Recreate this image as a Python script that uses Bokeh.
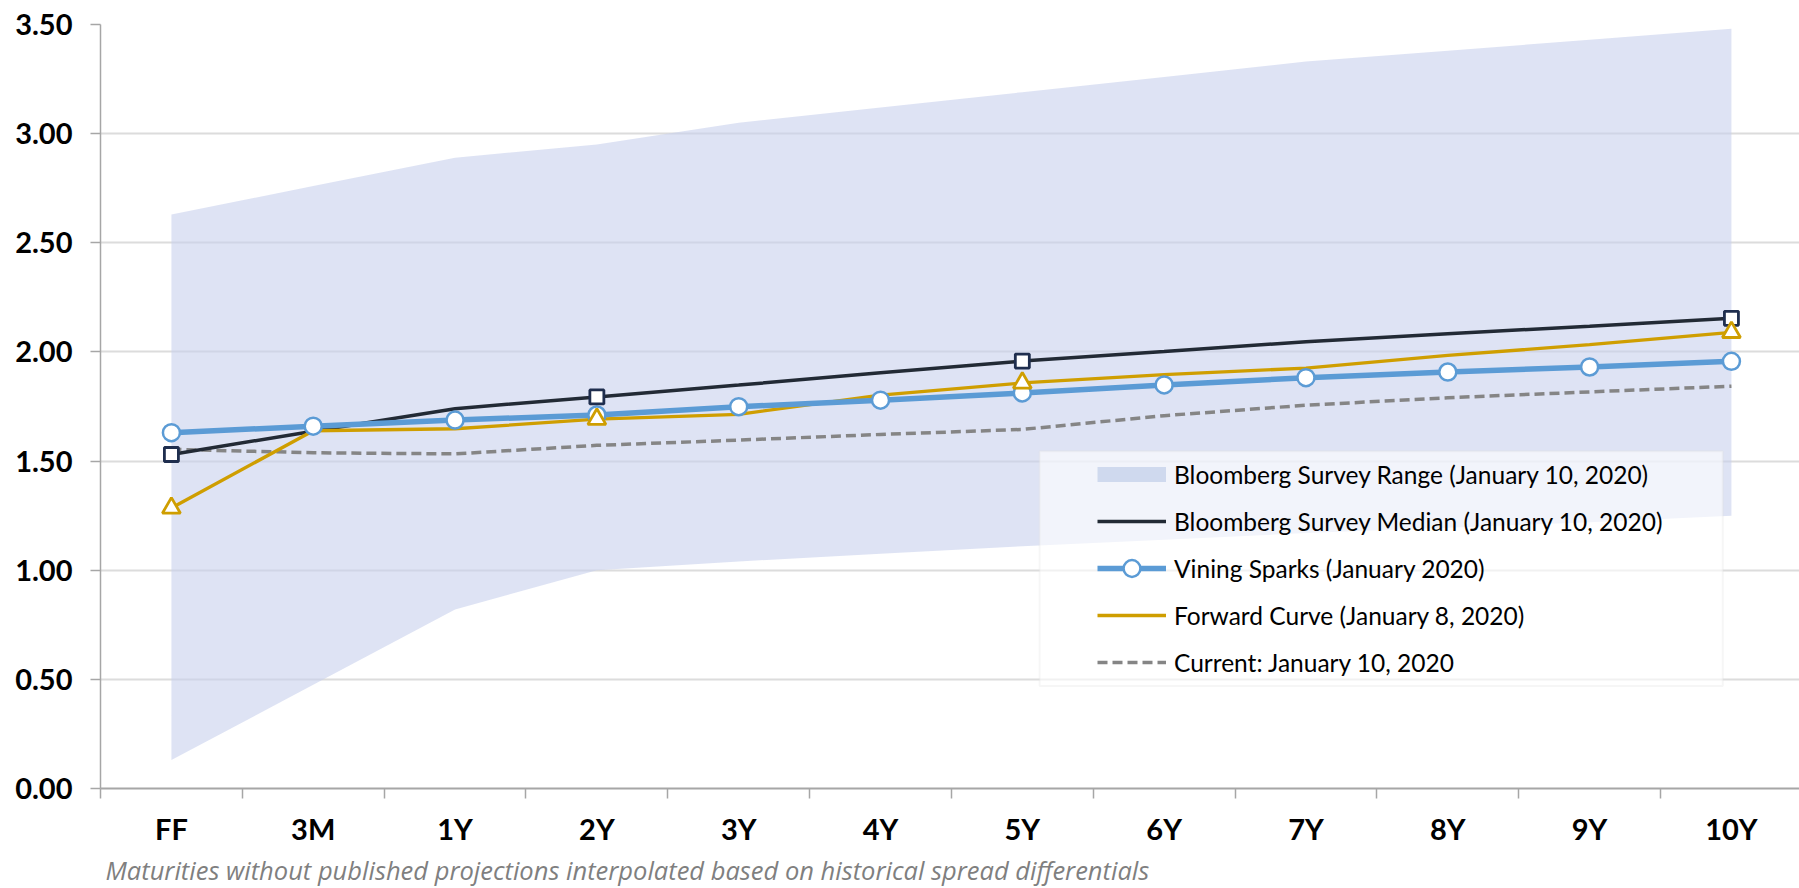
import numpy as np
from bokeh.plotting import figure
from bokeh.models import (Range1d, FixedTicker, NumeralTickFormatter, Legend, LegendItem,
                          BoxAnnotation, Title, ColumnDataSource)
from bokeh.embed import file_html
from bokeh.resources import INLINE

# ---------------- data ----------------
categories = ["FF", "3M", "1Y", "2Y", "3Y", "4Y", "5Y", "6Y", "7Y", "8Y", "9Y", "10Y"]
range_low = [0.13, 0.475, 0.82, 1.00, 1.04, 1.075, 1.11, 1.14, 1.17, 1.195, 1.22, 1.25]
range_high = [2.63, 2.76, 2.89, 2.95, 3.05, 3.12, 3.19, 3.26, 3.33, 3.38, 3.43, 3.48]
median = [1.53, 1.637, 1.74, 1.794, 1.848, 1.905, 1.958, 2.002, 2.047, 2.083, 2.118, 2.154]
vining = [1.63, 1.66, 1.688, 1.711, 1.749, 1.779, 1.812, 1.849, 1.882, 1.908, 1.931, 1.957]
forward = [1.285, 1.639, 1.648, 1.692, 1.714, 1.802, 1.858, 1.896, 1.926, 1.984, 2.033, 2.09]
current = [1.554, 1.538, 1.533, 1.572, 1.596, 1.622, 1.645, 1.708, 1.756, 1.79, 1.817, 1.843]
marker_cats = ["FF", "2Y", "5Y", "10Y"]
y_ticks = [0.0, 0.5, 1.0, 1.5, 2.0, 2.5, 3.0, 3.5]
labels = ["Bloomberg Survey Range (January 10, 2020)",
          "Bloomberg Survey Median (January 10, 2020)",
          "Vining Sparks (January 2020)",
          "Forward Curve (January 8, 2020)",
          "Current: January 10, 2020"]
footnote = "Maturities without published projections interpolated based on historical spread differentials"

FONT = "Lato"
C_BAND = "#C8D1EC"
C_BAND_KEY = "#CFD9EE"
C_MED = "#222A35"
C_MED_MK = "#1F2E4E"
C_BLUE = "#5B9BD5"
C_GOLD = "#CF9E00"
C_GRAY = "#858585"

n = len(categories)
xs = list(range(n))
src = ColumnDataSource(dict(x=xs, low=range_low, high=range_high, median=median,
                            vining=vining, forward=forward, current=current))
mk_idx = [categories.index(c) for c in marker_cats]
mk_src = ColumnDataSource(dict(x=[xs[i] for i in mk_idx],
                               median=[median[i] for i in mk_idx],
                               forward=[forward[i] for i in mk_idx]))

p = figure(width=1799, height=888, output_backend="svg", toolbar_location=None,
           x_range=Range1d(-0.5, 11.48), y_range=Range1d(0, 3.5),
           min_border_top=24, min_border_left=100, min_border_right=0, min_border_bottom=96)
p.outline_line_color = None
p.background_fill_color = "white"

# band
p.varea(x="x", y1="low", y2="high", source=src, fill_color=C_BAND, fill_alpha=0.6)
# legend key for the band (a non-drawable point, shown only in the legend)
key_src = ColumnDataSource(dict(x=np.array([np.nan]), y=np.array([np.nan])))
r_band_key = p.line("x", "y", source=key_src, line_color=C_BAND_KEY, line_width=15)
# lines
r_cur = p.line("x", "current", source=src, line_color=C_GRAY, line_width=3.5, line_dash="10 5")
r_med = p.line("x", "median", source=src, line_color=C_MED, line_width=3.5)
r_fwd = p.line("x", "forward", source=src, line_color=C_GOLD, line_width=3.3)
r_vin = p.line("x", "vining", source=src, line_color=C_BLUE, line_width=5.5)
r_vin_m = p.scatter("x", "vining", source=src, marker="circle", size=17, fill_color="white",
                    line_color=C_BLUE, line_width=2.5)
p.scatter("x", "median", source=mk_src, marker="square", size=14, fill_color="white",
          line_color=C_MED_MK, line_width=2.8)
p.scatter("x", "forward", source=mk_src, marker="triangle", size=18, fill_color="white",
          line_color=C_GOLD, line_width=2.8)

# axes
yax = p.yaxis[0]
yax.ticker = FixedTicker(ticks=y_ticks)
yax.formatter = NumeralTickFormatter(format="0.00")
yax.major_tick_out = 10
yax.major_tick_in = 0
yax.minor_tick_out = 0
yax.minor_tick_in = 0
yax.major_tick_line_color = "#a6a6a6"
yax.major_tick_line_width = 1.5
yax.axis_line_color = "#a6a6a6"
yax.axis_line_width = 1.5
yax.major_label_text_font = FONT
yax.major_label_text_font_style = "bold"
yax.major_label_text_font_size = "29px"
yax.major_label_text_color = "black"
yax.major_label_standoff = 18

xax = p.xaxis[0]
xax.ticker = FixedTicker(ticks=xs, minor_ticks=[i - 0.5 for i in range(n + 1)])
xax.major_label_overrides = {i: c for i, c in zip(xs, categories)}
xax.major_tick_out = 0
xax.major_tick_in = 0
xax.minor_tick_out = 10
xax.minor_tick_in = 0
xax.minor_tick_line_color = "#a6a6a6"
xax.minor_tick_line_width = 1.5
xax.axis_line_color = "#a6a6a6"
xax.axis_line_width = 2
xax.major_label_text_font = FONT
xax.major_label_text_font_style = "bold"
xax.major_label_text_font_size = "29px"
xax.major_label_text_color = "black"
xax.major_label_standoff = 12

p.xgrid.grid_line_color = None
p.ygrid.ticker = FixedTicker(ticks=y_ticks)
p.ygrid.grid_line_color = "#dcdcdc"
p.ygrid.grid_line_width = 2

# legend box
box = BoxAnnotation(left=6.122, right=10.939, bottom=0.469, top=1.545,
                    fill_color="white", fill_alpha=0.6, line_color="#e2e2e2", line_width=2)
p.add_layout(box)

legend = Legend(items=[
    LegendItem(label=labels[0], renderers=[r_band_key]),
    LegendItem(label=labels[1], renderers=[r_med]),
    LegendItem(label=labels[2], renderers=[r_vin, r_vin_m]),
    LegendItem(label=labels[3], renderers=[r_fwd]),
    LegendItem(label=labels[4], renderers=[r_cur]),
], location=(987, 95))
legend.padding = 10
legend.spacing = 5
legend.label_height = 30
legend.glyph_height = 42
legend.glyph_width = 69
legend.label_standoff = 8
legend.label_text_font = FONT
legend.label_text_font_size = "24.5px"
legend.label_text_color = "black"
legend.background_fill_alpha = 0
legend.border_line_alpha = 0
p.add_layout(legend)

p.add_layout(Title(text=footnote, align="left", text_font="Open Sans", text_font_style="italic",
                   text_font_size="25.5px", text_color="#7f7f7f", offset=5, standoff=4), "below")

open("out.html", "w").write(file_html(p, INLINE))
